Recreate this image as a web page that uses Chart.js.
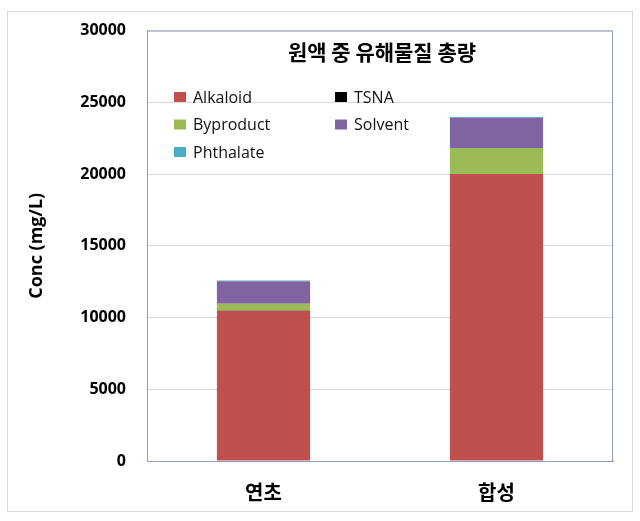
<!DOCTYPE html>
<html lang="ko">
<head>
    <meta charset="UTF-8">
    <title>원액 중 유해물질 총량</title>
    <script src="https://cdn.jsdelivr.net/npm/chart.js@4.4.0/dist/chart.umd.min.js"></script>
    <style>
        body { margin: 0; background: #fff; }
        #wrap { width: 640px; height: 521px; }
    </style>
</head>
<body>
    <div id="wrap"><canvas id="concChart" width="640" height="521"></canvas></div>

    <script>
        // categories and series (mg/L)
        const categories = ['연초', '합성'];
        const alkaloid = [10480, 20000];
        const tsna = [5, 5];
        const byproduct = [480, 1810];
        const solvent = [1560, 2110];
        const phthalate = [60, 60];

        const chartTitle = '원액 중 유해물질 총량';
        const yTitle = 'Conc (mg/L)';
        const yTicks = [0, 5000, 10000, 15000, 20000, 25000, 30000];

        const latin = '"Open Sans", "Noto Sans CJK KR", sans-serif';
        const frameColor = '#8ea0bd';

        // plot box, title and the two-column legend inside the plot area
        const insidePlot = {
            id: 'insidePlot',
            beforeDraw(chart) {
                const c = chart.ctx;
                c.save();
                c.fillStyle = '#fff';
                c.fillRect(0, 0, chart.width, chart.height);
                c.strokeStyle = '#d9d9d9';
                c.lineWidth = 1;
                c.strokeRect(7.5, 11.5, 625, 500);
                c.restore();
            },
            afterDraw(chart) {
                const c = chart.ctx;
                const a = chart.chartArea;
                c.save();
                c.strokeStyle = frameColor;
                c.lineWidth = 1;
                c.strokeRect(a.left + 0.5, a.top + 0.5, a.right - a.left - 1, a.bottom - a.top);

                c.fillStyle = '#000';
                c.font = 'bold 21px "Noto Sans CJK KR", sans-serif';
                c.textAlign = 'center';
                c.textBaseline = 'middle';
                c.fillText(chartTitle, 382, 52);

                c.font = '16px ' + latin;
                c.textAlign = 'left';
                chart.data.datasets.forEach((ds, i) => {
                    const col = i % 2, row = Math.floor(i / 2);
                    const x = col === 0 ? 174 : 335;
                    const y = 97 + row * 27.5;
                    c.fillStyle = ds.backgroundColor;
                    c.fillRect(x, y - 5, 12, 10);
                    c.fillStyle = '#111';
                    c.fillText(ds.label, x + 19, y + 1);
                });
                c.restore();
            }
        };

        new Chart(document.getElementById('concChart'), {
            type: 'bar',
            data: {
                labels: categories,
                datasets: [
                    { label: 'Alkaloid', data: alkaloid, backgroundColor: '#c0504d' },
                    { label: 'TSNA', data: tsna, backgroundColor: '#000000' },
                    { label: 'Byproduct', data: byproduct, backgroundColor: '#9bbb59' },
                    { label: 'Solvent', data: solvent, backgroundColor: '#8064a2' },
                    { label: 'Phthalate', data: phthalate, backgroundColor: '#4bacc6' }
                ]
            },
            options: {
                responsive: false,
                animation: false,
                devicePixelRatio: 1,
                layout: { padding: { top: 25, right: 27, left: 0, bottom: 0 } },
                datasets: { bar: { categoryPercentage: 1, barPercentage: 0.4 } },
                plugins: {
                    legend: { display: false },
                    title: { display: false },
                    tooltip: { enabled: false }
                },
                scales: {
                    x: {
                        stacked: true,
                        grid: { display: false, drawTicks: false },
                        border: { color: frameColor },
                        ticks: {
                            color: '#000',
                            padding: 19,
                            font: { family: '"Noto Sans CJK KR", sans-serif', size: 20, weight: 'bold' }
                        },
                        afterFit(s) { s.height = 60; }
                    },
                    y: {
                        stacked: true,
                        min: 0,
                        max: 30000,
                        afterBuildTicks(s) { s.ticks = yTicks.map(v => ({ value: v })); },
                        grid: { color: '#d9d9d9', drawTicks: false },
                        border: { color: frameColor },
                        ticks: {
                            color: '#000',
                            padding: 21,
                            callback: v => String(v),
                            font: { family: latin, size: 16, weight: 'bold' }
                        },
                        title: {
                            display: true,
                            text: yTitle,
                            color: '#000',
                            padding: { top: 26, bottom: 0 },
                            font: { family: latin, size: 18, weight: 'bold' }
                        },
                        afterFit(s) { s.width = 147; }
                    }
                }
            },
            plugins: [insidePlot]
        });
    </script>
</body>
</html>
